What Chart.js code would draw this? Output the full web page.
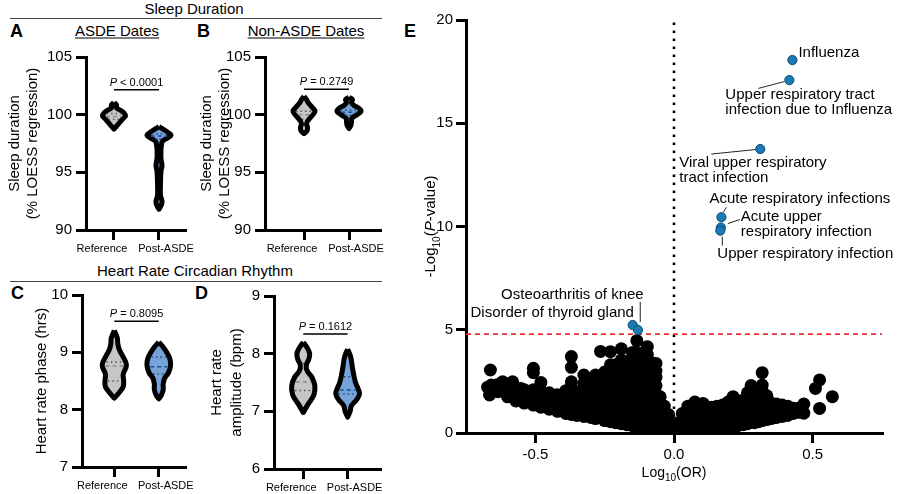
<!DOCTYPE html>
<html>
<head>
<meta charset="utf-8">
<script src="https://cdn.jsdelivr.net/npm/chart.js@4.4.0/dist/chart.umd.min.js"></script>
<style>
  body { margin: 0; width: 900px; height: 494px; position: relative; overflow: hidden; background: #fff;
         font-family: "Liberation Sans", Arial, Helvetica, sans-serif; }
  canvas { position: absolute; }
  .t { position: absolute; white-space: nowrap; line-height: 1; transform: translate(-50%, -50%); font-size: 15px; }
  .l { position: absolute; white-space: nowrap; line-height: 1; transform: translateY(-50%); font-size: 18px; font-weight: 900; }
  .u { text-decoration: underline; text-underline-offset: 2px; }
  .rule { position: absolute; height: 0; border-top: 1.5px solid #444; }
</style>
</head>
<body>
<div class="t" style="left:194px;top:8px">Sleep Duration</div>
<div class="rule" style="left:10px;top:18px;width:372px"></div>
<div class="t" style="left:195px;top:270px">Heart Rate Circadian Rhythm</div>
<div class="rule" style="left:10px;top:281px;width:372px"></div>
<div class="l" style="left:10px;top:31px">A</div>
<div class="l" style="left:197px;top:31px">B</div>
<div class="l" style="left:11px;top:293px">C</div>
<div class="l" style="left:195px;top:293px">D</div>
<div class="l" style="left:404px;top:31px">E</div>
<div class="t u" style="left:117px;top:30px">ASDE Dates</div>
<div class="t u" style="left:306px;top:30px">Non-ASDE Dates</div>

<canvas id="chartA" width="200" height="222" style="left:0;top:40px"></canvas>
<canvas id="chartB" width="201" height="222" style="left:194px;top:40px"></canvas>
<canvas id="chartC" width="200" height="224" style="left:0;top:270px"></canvas>
<canvas id="chartD" width="195" height="224" style="left:200px;top:270px"></canvas>
<canvas id="chartE" width="500" height="494" style="left:400px;top:0"></canvas>

<script>
const groups = ['Reference', 'Post-ASDE'];

// violin outlines: levels (value) and half widths (in category units)
const sleepAsdeRefLevels = [101.05, 100.85, 100.6, 100.4, 100.15, 99.9, 99.65, 99.35, 99.05, 98.75];
const sleepAsdeRefWidths = [0, 0.056, 0.056, 0.133, 0.222, 0.256, 0.2, 0.133, 0.067, 0];
const sleepAsdePostLevels = [98.95, 98.75, 98.45, 98.2, 97.95, 97.7, 97.4, 96.9, 96.2, 95.6, 95.1, 94.0, 93.0, 92.5, 92.2, 91.8];
const sleepAsdePostWidths = [0, 0.089, 0.2, 0.267, 0.178, 0.078, 0.056, 0.044, 0.044, 0.067, 0.044, 0.033, 0.033, 0.067, 0.056, 0];
const sleepNonRefLevels = [101.6, 101.3, 101.0, 100.7, 100.3, 99.9, 99.5, 99.2, 98.9, 98.6, 98.35];
const sleepNonRefWidths = [0, 0.056, 0.1, 0.167, 0.244, 0.178, 0.089, 0.056, 0.078, 0.067, 0];
const sleepNonPostLevels = [101.5, 101.3, 101.05, 100.8, 100.55, 100.3, 100.0, 99.7, 99.4, 99.1, 98.8];
const sleepNonPostWidths = [0, 0.078, 0.056, 0.111, 0.222, 0.267, 0.178, 0.067, 0.056, 0.044, 0];
const phaseRefLevels = [9.38, 9.25, 9.15, 9.05, 8.95, 8.78, 8.62, 8.5, 8.4, 8.3, 8.2];
const phaseRefWidths = [0, 0.067, 0.078, 0.111, 0.178, 0.273, 0.2, 0.211, 0.2, 0.111, 0];
const phasePostLevels = [9.18, 9.1, 9.0, 8.9, 8.78, 8.65, 8.55, 8.45, 8.35, 8.25, 8.19];
const phasePostWidths = [0, 0.089, 0.178, 0.244, 0.267, 0.222, 0.133, 0.1, 0.1, 0.056, 0];
const ampRefLevels = [8.2, 8.1, 8.0, 7.9, 7.8, 7.7, 7.6, 7.45, 7.3, 7.2, 7.1, 6.98];
const ampRefWidths = [0, 0.089, 0.144, 0.122, 0.067, 0.089, 0.189, 0.26, 0.244, 0.178, 0.089, 0];
const ampPostLevels = [8.08, 7.95, 7.8, 7.65, 7.5, 7.4, 7.3, 7.2, 7.1, 7.0, 6.9];
const ampPostWidths = [0, 0.067, 0.1, 0.133, 0.178, 0.233, 0.267, 0.2, 0.089, 0.056, 0];

// median, upper quartile, lower quartile
const sleepAsdeRefQuart = [99.85, 100.1, 99.6];
const sleepAsdePostQuart = [98.15, 98.35, 97.9];
const sleepNonRefQuart = [100.0, 100.3, 99.6];
const sleepNonPostQuart = [100.2, 100.4, 99.95];
const phaseRefQuart = [8.76, 8.83, 8.5];
const phasePostQuart = [8.75, 8.92, 8.62];
const ampRefQuart = [7.51, 7.83, 7.36];
const ampPostQuart = [7.37, 7.6, 7.3];

const pTexts = ['< 0.0001', '= 0.2749', '= 0.8095', '= 0.1612'];

// volcano plot (E)
const hitLabels = [['Influenza'], ['Upper respiratory tract', 'infection due to Influenza'],
  ['Viral upper respiratory', 'tract infection'], ['Acute respiratory infections'],
  ['Acute upper', 'respiratory infection'], ['Upper respiratory infection'],
  ['Osteoarthritis of knee'], ['Disorder of thyroid gland']];
const hitLogOR = [0.427, 0.416, 0.311, 0.171, 0.169, 0.167, -0.149, -0.13];
const hitNegLogP = [18.06, 17.09, 13.75, 10.45, 9.95, 9.8, 5.23, 4.99];
const threshold = 4.79;
const xTicksE = [-0.5, 0, 0.5];

// other traits, grouped as [log10 OR, [-log10 P ...]]
const otherTraits = [
  [-0.662, [3.05]], [-0.659, [2.32]], [-0.672, [2.22]], [-0.665, [1.84]],
  [-0.635, [2.0, 2.35]], [-0.618, [2.48]],
  [-0.6, [1.75, 2.1]], [-0.582, [2.48]],
  [-0.57, [1.55, 1.95, 2.2]], [-0.552, [2.16]],
  [-0.54, [1.45, 1.85, 2.1]],
  [-0.507, [1.35, 1.75, 2.1, 2.92, 3.13]],
  [-0.48, [1.25, 1.65, 2.05, 2.45]],
  [-0.45, [1.15, 1.55, 1.95]],
  [-0.42, [1.05, 1.45, 1.85]],
  [-0.39, [0.95, 1.35, 1.75, 2.05]],
  [-0.37, [0.9, 1.3, 1.7, 2.1, 2.48, 3.18, 3.7]],
  [-0.35, [0.85, 1.25, 1.65, 2.0]],
  [-0.325, [0.8, 1.2, 1.6, 2.0, 2.4, 2.81]],
  [-0.3, [0.75, 1.15, 1.55, 1.95, 2.35, 2.6]],
  [-0.283, [0.7, 1.1, 1.5, 1.9, 2.3, 2.81]],
  [-0.265, [3.95]],
  [-0.25, [0.6, 1.0, 1.4, 1.8, 2.2, 2.6, 2.95]],
  [-0.229, [0.55, 0.95, 1.35, 1.75, 2.15, 2.55, 2.95, 3.3, 3.94]],
  [-0.21, [0.5, 0.9, 1.3, 1.7, 2.1, 2.5, 2.9, 3.3]],
  [-0.19, [0.45, 0.85, 1.25, 1.65, 2.05, 2.45, 2.85, 3.2, 3.54, 4.08]],
  [-0.17, [0.4, 0.8, 1.2, 1.6, 2.0, 2.4, 2.8, 3.2, 3.45]],
  [-0.15, [0.35, 0.75, 1.15, 1.55, 1.95, 2.35, 2.75, 3.15, 3.55, 3.9]],
  [-0.134, [0.3, 0.7, 1.1, 1.5, 1.9, 2.3, 2.7, 3.1, 3.5, 3.9, 4.47]],
  [-0.115, [0.3, 0.7, 1.1, 1.5, 1.9, 2.3, 2.7, 3.1, 3.5, 3.85]],
  [-0.096, [0.3, 0.7, 1.1, 1.5, 1.9, 2.3, 2.7, 3.1, 3.5, 3.8, 4.18]],
  [-0.08, [0.3, 0.7, 1.1, 1.5, 1.9, 2.3, 2.7, 3.1, 3.4]],
  [-0.065, [0.3, 0.7, 1.1, 1.5, 1.9, 2.3, 2.7, 3.0, 3.37]],
  [-0.05, [0.3, 0.7, 1.1, 1.45, 1.75]],
  [-0.035, [0.3, 0.65, 1.0, 1.3]],
  [-0.02, [0.25, 0.6, 0.9]],
  [-0.005, [0.2, 0.45]],
  [0.015, [0.2, 0.5]],
  [0.03, [0.25, 0.6, 0.95]],
  [0.05, [0.25, 0.65, 1.05, 1.3]],
  [0.075, [0.25, 0.65, 1.05, 1.5]],
  [0.09, [0.25, 0.65, 1.05, 1.3]],
  [0.105, [0.25, 0.65, 1.05, 1.43]],
  [0.12, [0.25, 0.65, 1.05, 1.2]],
  [0.135, [0.25, 0.65, 1.05, 1.25]],
  [0.155, [0.25, 0.65, 1.05, 1.3]],
  [0.175, [0.3, 0.7, 1.05, 1.35]],
  [0.195, [0.3, 0.7, 1.1, 1.5]],
  [0.213, [0.35, 0.75, 1.15, 1.5, 1.76]],
  [0.23, [0.35, 0.75, 1.15, 1.55]],
  [0.25, [0.4, 0.8, 1.2, 1.6]],
  [0.265, [0.45, 0.85, 1.25, 1.65, 1.95]],
  [0.278, [2.3]],
  [0.29, [0.5, 0.9, 1.3, 1.7, 2.0]],
  [0.305, [0.55, 0.95, 1.35, 1.75]],
  [0.318, [0.6, 1.0, 1.4, 1.8, 2.05, 2.32, 2.92]],
  [0.335, [0.65, 1.05, 1.45, 1.8]],
  [0.35, [0.7, 1.05, 1.45]],
  [0.37, [0.75, 1.1, 1.4]],
  [0.39, [0.8, 1.1, 1.35]],
  [0.41, [0.85, 1.15, 1.3]],
  [0.43, [0.95, 1.2]],
  [0.45, [1.0, 1.2]],
  [0.468, [0.96, 1.4]],
  [0.51, [2.16]],
  [0.525, [1.19, 2.57]],
  [0.571, [1.76]]
];

const family = '"Liberation Sans", Arial, Helvetica, sans-serif';
Chart.defaults.font.family = family;
Chart.defaults.color = '#000';
Chart.defaults.animation = false;
Chart.defaults.plugins.legend.display = false;
Chart.defaults.plugins.tooltip.enabled = false;

// text with italic / subscript pieces, centred on x,y
function drawRich(ctx, parts, x, y, size, rotate) {
  ctx.save();
  ctx.translate(x, y);
  if (rotate) ctx.rotate(-Math.PI / 2);
  const fontOf = p => (p.it ? 'italic ' : '') + (p.sub ? Math.round(size * 0.68) : size) + 'px ' + family;
  let total = 0;
  parts.forEach(p => { ctx.font = fontOf(p); total += ctx.measureText(p.t).width; });
  let cx = -total / 2;
  ctx.fillStyle = '#000';
  ctx.textBaseline = 'alphabetic';
  ctx.textAlign = 'left';
  parts.forEach(p => {
    ctx.font = fontOf(p);
    ctx.fillText(p.t, cx, size * 0.36 + (p.sub ? size * 0.3 : 0));
    cx += ctx.measureText(p.t).width;
  });
  ctx.restore();
}

function widthAt(levels, widths, v) {
  for (let k = 0; k < levels.length - 1; k++) {
    if (v <= levels[k] && v >= levels[k + 1]) {
      const f = (levels[k] - v) / (levels[k] - levels[k + 1]);
      return widths[k] + f * (widths[k + 1] - widths[k]);
    }
  }
  return 0;
}

// group labels sit a little outside their ticks, as in the original figure
const groupLabelShift = [-12, 7];

const pPlugin = {
  id: 'pText',
  afterDatasetsDraw(chart) {
    const o = chart.options.plugins.pText;
    const {ctx, chartArea, scales: {x, y}} = chart;
    const cx = (x.getPixelForValue(1) + x.getPixelForValue(2)) / 2;
    drawRich(ctx, [{t: 'P', it: true}, {t: ' ' + o.text}], cx, y.getPixelForValue(o.line) - 8, 11);
    ctx.save();
    ctx.font = '11px ' + family;
    ctx.fillStyle = '#000';
    ctx.textAlign = 'center';
    ctx.textBaseline = 'middle';
    groups.forEach((g, i) => ctx.fillText(g, x.getPixelForValue(i + 1) + groupLabelShift[i], chartArea.bottom + 19));
    ctx.restore();
  }
};

function axisX(min, max) {
  return {
    type: 'linear', min: min, max: max,
    afterBuildTicks: s => { s.ticks = [{value: 1}, {value: 2}]; },
    ticks: {display: false},
    grid: {drawOnChartArea: false, color: '#000', lineWidth: 3, tickLength: 10},
    border: {color: '#000', width: 3}
  };
}

function makeViolin(id, p) {
  const datasets = [];
  p.groups.forEach((g, gi) => {
    const c = gi + 1;
    const right = g.levels.map((v, k) => ({x: c + g.widths[k], y: v}));
    const left = g.levels.map((v, k) => ({x: c - g.widths[k], y: v})).reverse();
    datasets.push({data: right.concat(left), showLine: true, tension: 0.4, fill: 'shape',
      backgroundColor: g.fill, borderColor: '#000', borderWidth: 5, borderJoinStyle: 'round',
      pointRadius: 0, order: 2});
    g.quart.forEach((q, qi) => {
      const w = widthAt(g.levels, g.widths, q) - 0.065;
      if (w <= 0) return;
      datasets.push({data: [{x: c - w, y: q}, {x: c + w, y: q}], showLine: true,
        borderColor: qi === 0 ? g.medColor : g.dotColor, borderWidth: 1.5,
        borderDash: qi === 0 ? [4, 3] : [1.5, 3], pointRadius: 0, order: 1});
    });
  });
  datasets.push({data: [{x: 1, y: p.pLine}, {x: 2, y: p.pLine}], showLine: true,
    borderColor: '#000', borderWidth: 1.5, pointRadius: 0, order: 0});

  new Chart(document.getElementById(id), {
    type: 'scatter',
    data: {datasets: datasets},
    options: {
      responsive: false,
      layout: {padding: {top: p.padTop, right: 15, left: 0, bottom: 0}},
      plugins: {pText: {text: p.pText, line: p.pLine}},
      scales: {
        x: Object.assign(axisX(p.xMin, p.xMax), {afterFit: s => { s.height = p.xHeight; }}),
        y: {
          min: p.yMin, max: p.yMax,
          ticks: {stepSize: p.step, font: {size: 15}, padding: 4},
          grid: {drawOnChartArea: false, color: '#000', lineWidth: 3, tickLength: 10},
          border: {color: '#000', width: 3},
          title: {display: true, text: p.title, font: {size: 15, lineHeight: p.titleLH || 1.2},
            padding: {top: p.titlePad, bottom: 0}},
          afterFit: s => { s.width = p.yWidth; }
        }
      }
    },
    plugins: [pPlugin]
  });
}

const refFill = '#c6c6c6', postFill = '#76a3d8';

makeViolin('chartA', {
  groups: [
    {levels: sleepAsdeRefLevels, widths: sleepAsdeRefWidths, quart: sleepAsdeRefQuart, fill: refFill, medColor: '#8c8c8c', dotColor: '#555'},
    {levels: sleepAsdePostLevels, widths: sleepAsdePostWidths, quart: sleepAsdePostQuart, fill: postFill, medColor: '#1d4f96', dotColor: '#27466f'}
  ],
  pText: pTexts[0], pLine: 102.17, xMin: 0.378, xMax: 2.578, yMin: 90, yMax: 105, step: 5,
  title: ['Sleep duration', '(% LOESS regression)'], titlePad: 6, yWidth: 86, padTop: 17, xHeight: 32
});
makeViolin('chartB', {
  groups: [
    {levels: sleepNonRefLevels, widths: sleepNonRefWidths, quart: sleepNonRefQuart, fill: refFill, medColor: '#8c8c8c', dotColor: '#555'},
    {levels: sleepNonPostLevels, widths: sleepNonPostWidths, quart: sleepNonPostQuart, fill: postFill, medColor: '#1d4f96', dotColor: '#27466f'}
  ],
  pText: pTexts[1], pLine: 102.2, xMin: 0.133, xMax: 2.689, yMin: 90, yMax: 105, step: 5,
  title: ['Sleep duration', '(% LOESS regression)'], titlePad: 4, yWidth: 71, padTop: 17, xHeight: 32
});
makeViolin('chartC', {
  groups: [
    {levels: phaseRefLevels, widths: phaseRefWidths, quart: phaseRefQuart, fill: refFill, medColor: '#8c8c8c', dotColor: '#555'},
    {levels: phasePostLevels, widths: phasePostWidths, quart: phasePostQuart, fill: postFill, medColor: '#1d4f96', dotColor: '#27466f'}
  ],
  pText: pTexts[2], pLine: 9.54, xMin: 0.273, xMax: 2.59, yMin: 7, yMax: 10, step: 1,
  title: 'Heart rate phase (hrs)', titlePad: 33, yWidth: 82, padTop: 25, xHeight: 27
});
makeViolin('chartD', {
  groups: [
    {levels: ampRefLevels, widths: ampRefWidths, quart: ampRefQuart, fill: refFill, medColor: '#8c8c8c', dotColor: '#555'},
    {levels: ampPostLevels, widths: ampPostWidths, quart: ampPostQuart, fill: postFill, medColor: '#1d4f96', dotColor: '#27466f'}
  ],
  pText: pTexts[3], pLine: 8.34, xMin: 0.34, xMax: 2.73, yMin: 6, yMax: 9, step: 1,
  title: ['Heart rate', 'amplitude (bpm)'], titleLH: 1.33, titlePad: 7, yWidth: 74, padTop: 26, xHeight: 25
});

// label placement for highlighted traits, pixel offsets from each point
const hitLayout = [
  {dx: 6, dy: -7},
  {dx: -64, dy: 15, lead: [-5, 1.5, -31, 8.3]},
  {dx: -81, dy: 14, lead: [-5, 0.5, -49, 5]},
  {dx: -12, dy: -18, lead: [2, -5, 5, -10]},
  {dx: 20, dy: -11, lead: [7, -4, 19, -8]},
  {dx: -3, dy: 23.5, lead: [2, 6, 2, 15]},
  {dx: 11, dy: -30, align: 'right'},
  {dx: -4, dy: -17, align: 'right', lead: [2.3, -28, 2.3, -8]}
];

const volcanoText = {
  id: 'volcanoText',
  afterDatasetsDraw(chart) {
    const {ctx, chartArea, scales: {x, y}} = chart;
    ctx.save();
    ctx.font = '15px ' + family;
    ctx.fillStyle = '#000';
    ctx.strokeStyle = '#222';
    ctx.lineWidth = 1;
    ctx.textBaseline = 'middle';
    hitLayout.forEach((l, i) => {
      const px = x.getPixelForValue(hitLogOR[i]);
      const py = y.getPixelForValue(hitNegLogP[i]);
      if (l.lead) {
        ctx.beginPath();
        ctx.moveTo(px + l.lead[0], py + l.lead[1]);
        ctx.lineTo(px + l.lead[2], py + l.lead[3]);
        ctx.stroke();
      }
      ctx.textAlign = l.align || 'left';
      hitLabels[i].forEach((t, k) => ctx.fillText(t, px + l.dx, py + l.dy + k * 15));
    });
    ctx.restore();
    const midY = (chartArea.top + chartArea.bottom) / 2;
    drawRich(ctx, [{t: '-Log'}, {t: '10', sub: true}, {t: '('}, {t: 'P', it: true}, {t: '-value)'}],
      chartArea.left - 36, midY, 15, true);
    drawRich(ctx, [{t: 'Log'}, {t: '10', sub: true}, {t: '(OR)'}],
      (chartArea.left + chartArea.right) / 2, chartArea.bottom + 39, 14);
  }
};

const cloudPoints = [];
otherTraits.forEach(([lx, ys]) => ys.forEach(v => cloudPoints.push({x: lx, y: v})));

new Chart(document.getElementById('chartE'), {
  type: 'scatter',
  data: {
    datasets: [
      {data: hitLogOR.map((v, i) => ({x: v, y: hitNegLogP[i]})), backgroundColor: '#1b7ab3',
        borderColor: '#0c4b72', borderWidth: 1, pointRadius: 4.6, order: 0},
      {data: [{x: -0.75, y: threshold}, {x: 0.75, y: threshold}], showLine: true, borderColor: '#e8312c',
        borderWidth: 1.8, borderDash: [5, 4], pointRadius: 0, order: 1},
      {data: [{x: 0, y: 0}, {x: 0, y: 20}], showLine: true, borderColor: '#000',
        borderWidth: 2.6, borderDash: [2.6, 5.4], pointRadius: 0, order: 1},
      {data: cloudPoints, backgroundColor: '#000', borderWidth: 0, pointRadius: 6.5, clip: 0, order: 2}
    ]
  },
  options: {
    responsive: false,
    layout: {padding: {top: 20, right: 18, left: 0, bottom: 0}},
    scales: {
      x: {
        type: 'linear', min: -0.75, max: 0.75,
        afterBuildTicks: s => { s.ticks = xTicksE.map(v => ({value: v})); },
        ticks: {callback: v => v.toFixed(1), font: {size: 15}, padding: 3, maxRotation: 0},
        grid: {drawOnChartArea: false, color: '#000', lineWidth: 3, tickLength: 10},
        border: {color: '#000', width: 3},
        afterFit: s => { s.height = 61; }
      },
      y: {
        min: 0, max: 20,
        ticks: {stepSize: 5, font: {size: 15}, padding: 3},
        grid: {drawOnChartArea: false, color: '#000', lineWidth: 3, tickLength: 10},
        border: {color: '#000', width: 3},
        afterFit: s => { s.width = 66; }
      }
    }
  },
  plugins: [volcanoText]
});
</script>
</body>
</html>
